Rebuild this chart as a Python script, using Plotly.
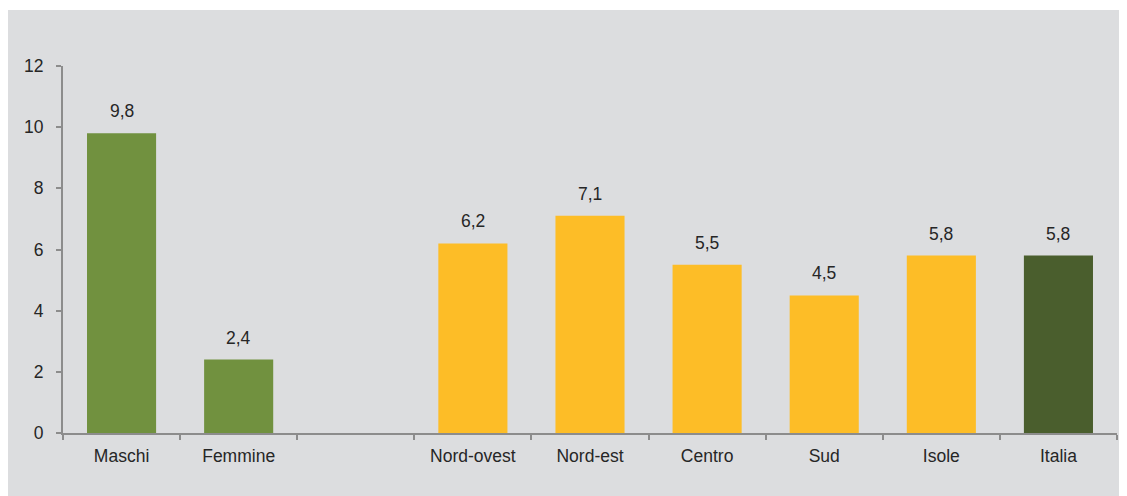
import plotly.graph_objects as go

# categories (the blank one is the gap between the two groups)
categories = ["Maschi", "Femmine", " ", "Nord-ovest", "Nord-est", "Centro", "Sud", "Isole", "Italia"]
values = [9.8, 2.4, None, 6.2, 7.1, 5.5, 4.5, 5.8, 5.8]
colors = ["#71913f", "#71913f", "#ffffff", "#fdbd27", "#fdbd27", "#fdbd27", "#fdbd27", "#fdbd27", "#4a5e2d"]

# page body adds an 8px margin, so the figure is sized for that
W, H = 1111, 488
ml, mr, mt, mb = 55, 2, 58, 63
pw, ph = W - ml - mr, H - mt - mb

fig = go.Figure()
fig.add_trace(go.Bar(x=categories, y=values, marker=dict(color=colors, line=dict(width=0)),
                     hoverinfo="skip"))

# value labels above bars
for c, v in zip(categories, values):
    if v is None:
        continue
    fig.add_annotation(x=c, y=v, text=f"{v:.1f}".replace(".", ","), showarrow=False,
                       yanchor="bottom", yshift=10,
                       font=dict(family="Liberation Sans, Arial", size=17.5, color="#262626"))

# grey panel behind the chart
fig.add_shape(type="rect", xref="paper", yref="paper", layer="below",
              x0=-ml / pw, x1=(W - ml + 20) / pw,
              y0=-(mb + 10) / ph, y1=1 + (mt - 2) / ph,
              fillcolor="#dcdddf", line=dict(width=0))

fig.update_layout(
    width=W, height=H,
    margin=dict(l=ml, r=mr, t=mt, b=mb),
    paper_bgcolor="white", plot_bgcolor="rgba(0,0,0,0)",
    bargap=0.41, showlegend=False,
    font=dict(family="Liberation Sans, Arial", size=17.5, color="#262626"),
    xaxis=dict(type="category", showgrid=False, zeroline=False, showline=True,
               linecolor="#8c8c8c", linewidth=2, ticks="outside", tickson="boundaries",
               ticklen=5, tickcolor="#8c8c8c", tickwidth=2, ticklabelstandoff=6),
    yaxis=dict(range=[0, 12], dtick=2, showgrid=False, zeroline=False, showline=True,
               linecolor="#8c8c8c", linewidth=2, ticks="outside", ticklen=5,
               tickcolor="#8c8c8c", tickwidth=2, ticklabelstandoff=9),
)

fig.write_html("out.html")
